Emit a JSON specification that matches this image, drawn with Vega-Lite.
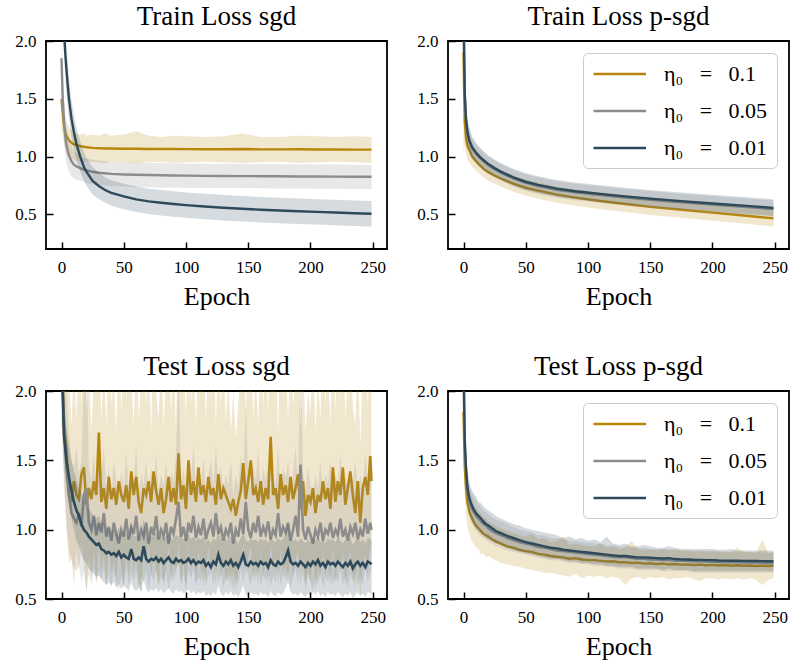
{
"$schema": "https://vega.github.io/schema/vega-lite/v6.json",
"background": "white",
"padding": {"left": 13, "top": 2, "right": 2, "bottom": 2},
"config": {
  "font": "Liberation Serif",
  "view": {"stroke": "black", "strokeWidth": 1.8},
  "axis": {"domain": false, "grid": false, "tickColor": "black", "tickWidth": 1.5, "tickSize": -7, "labelPadding": 17, "labelColor": "black", "labelFont": "Liberation Serif", "labelFontSize": 17, "titleFont": "Liberation Serif", "titleFontSize": 26, "titleFontWeight": "normal", "titleColor": "black", "titlePadding": 8},
  "title": {"font": "Liberation Serif", "fontSize": 27, "fontWeight": "normal", "color": "black", "offset": 1}
},
"columns": 2,
"spacing": {"row": 42, "column": 27},
"resolve": {"scale": {"color": "independent"}, "legend": {"color": "independent"}},
"datasets": {
"trs": [
{"e":0,"a":1.5,"al":1.22,"ah":1.8,"b":1.85,"bl":1.6,"bh":2.1,"c":2.6,"cl":2.3,"ch":2.9},
{"e":1,"a":1.38,"al":1.2,"ah":1.6,"b":1.5,"bl":1.3,"bh":1.75,"c":2.35,"cl":2.1,"ch":2.6},
{"e":2,"a":1.27,"al":1.12,"ah":1.45,"b":1.3,"bl":1.12,"bh":1.5,"c":2.1,"cl":1.88,"ch":2.32},
{"e":3,"a":1.21,"al":1.06,"ah":1.36,"b":1.18,"bl":1.02,"bh":1.36,"c":1.9,"cl":1.7,"ch":2.1},
{"e":4,"a":1.18,"al":1.03,"ah":1.3,"b":1.1,"bl":0.95,"bh":1.27,"c":1.75,"cl":1.56,"ch":1.94},
{"e":5,"a":1.16,"al":1.0,"ah":1.27,"b":1.05,"bl":0.9,"bh":1.2,"c":1.62,"cl":1.44,"ch":1.8},
{"e":6,"a":1.14,"al":0.99,"ah":1.25,"b":1.01,"bl":0.87,"bh":1.15,"c":1.5,"cl":1.33,"ch":1.67},
{"e":8,"a":1.12,"al":0.98,"ah":1.23,"b":0.96,"bl":0.83,"bh":1.09,"c":1.33,"cl":1.17,"ch":1.49},
{"e":10,"a":1.105,"al":0.97,"ah":1.22,"b":0.93,"bl":0.81,"bh":1.05,"c":1.21,"cl":1.06,"ch":1.36},
{"e":12,"a":1.1,"al":0.96,"ah":1.2,"b":0.915,"bl":0.8,"bh":1.03,"c":1.11,"cl":0.97,"ch":1.25},
{"e":15,"a":1.09,"al":0.96,"ah":1.19,"b":0.9,"bl":0.79,"bh":1.01,"c":1.0,"cl":0.87,"ch":1.13},
{"e":18,"a":1.085,"al":0.95,"ah":1.2,"b":0.885,"bl":0.78,"bh":0.99,"c":0.91,"cl":0.79,"ch":1.04},
{"e":20,"a":1.08,"al":0.96,"ah":1.18,"b":0.88,"bl":0.77,"bh":0.985,"c":0.87,"cl":0.75,"ch":0.99},
{"e":25,"a":1.075,"al":0.95,"ah":1.19,"b":0.868,"bl":0.76,"bh":0.975,"c":0.79,"cl":0.67,"ch":0.91},
{"e":30,"a":1.072,"al":0.95,"ah":1.18,"b":0.86,"bl":0.755,"bh":0.965,"c":0.745,"cl":0.63,"ch":0.86},
{"e":35,"a":1.07,"al":0.94,"ah":1.2,"b":0.855,"bl":0.75,"bh":0.96,"c":0.71,"cl":0.6,"ch":0.82},
{"e":40,"a":1.07,"al":0.96,"ah":1.18,"b":0.85,"bl":0.745,"bh":0.955,"c":0.685,"cl":0.575,"ch":0.795},
{"e":50,"a":1.068,"al":0.95,"ah":1.19,"b":0.845,"bl":0.74,"bh":0.95,"c":0.655,"cl":0.545,"ch":0.765},
{"e":60,"a":1.067,"al":0.94,"ah":1.22,"b":0.842,"bl":0.737,"bh":0.947,"c":0.63,"cl":0.52,"ch":0.74},
{"e":70,"a":1.066,"al":0.95,"ah":1.18,"b":0.84,"bl":0.735,"bh":0.945,"c":0.612,"cl":0.502,"ch":0.722},
{"e":80,"a":1.065,"al":0.955,"ah":1.17,"b":0.838,"bl":0.733,"bh":0.943,"c":0.6,"cl":0.49,"ch":0.71},
{"e":90,"a":1.065,"al":0.945,"ah":1.18,"b":0.836,"bl":0.731,"bh":0.941,"c":0.59,"cl":0.48,"ch":0.7},
{"e":100,"a":1.064,"al":0.95,"ah":1.175,"b":0.835,"bl":0.73,"bh":0.94,"c":0.58,"cl":0.47,"ch":0.69},
{"e":115,"a":1.063,"al":0.955,"ah":1.17,"b":0.833,"bl":0.728,"bh":0.938,"c":0.568,"cl":0.458,"ch":0.678},
{"e":130,"a":1.063,"al":0.95,"ah":1.175,"b":0.832,"bl":0.727,"bh":0.937,"c":0.557,"cl":0.447,"ch":0.667},
{"e":145,"a":1.065,"al":0.945,"ah":1.2,"b":0.831,"bl":0.726,"bh":0.936,"c":0.548,"cl":0.438,"ch":0.658},
{"e":160,"a":1.062,"al":0.95,"ah":1.17,"b":0.83,"bl":0.725,"bh":0.935,"c":0.54,"cl":0.43,"ch":0.65},
{"e":175,"a":1.062,"al":0.955,"ah":1.17,"b":0.829,"bl":0.724,"bh":0.934,"c":0.533,"cl":0.423,"ch":0.643},
{"e":190,"a":1.063,"al":0.945,"ah":1.18,"b":0.828,"bl":0.723,"bh":0.933,"c":0.527,"cl":0.417,"ch":0.637},
{"e":205,"a":1.061,"al":0.95,"ah":1.175,"b":0.827,"bl":0.722,"bh":0.932,"c":0.521,"cl":0.411,"ch":0.631},
{"e":220,"a":1.061,"al":0.955,"ah":1.17,"b":0.826,"bl":0.721,"bh":0.931,"c":0.516,"cl":0.406,"ch":0.626},
{"e":235,"a":1.06,"al":0.95,"ah":1.175,"b":0.825,"bl":0.72,"bh":0.93,"c":0.51,"cl":0.4,"ch":0.62},
{"e":249,"a":1.06,"al":0.945,"ah":1.17,"b":0.825,"bl":0.72,"bh":0.93,"c":0.505,"cl":0.395,"ch":0.615}
],
"trp": [
{"e":0,"a":1.9,"al":1.02,"ah":2.3,"b":2.2,"bl":1.8,"bh":2.5,"c":2.3,"cl":1.9,"ch":2.6},
{"e":1,"a":1.3,"al":1.1,"ah":1.5,"b":1.52,"bl":1.35,"bh":1.7,"c":1.55,"cl":1.38,"ch":1.72},
{"e":2,"a":1.16,"al":1.02,"ah":1.3,"b":1.31,"bl":1.18,"bh":1.44,"c":1.32,"cl":1.19,"ch":1.45},
{"e":3,"a":1.1,"al":0.98,"ah":1.22,"b":1.215,"bl":1.1,"bh":1.33,"c":1.23,"cl":1.11,"ch":1.35},
{"e":4,"a":1.07,"al":0.96,"ah":1.18,"b":1.16,"bl":1.05,"bh":1.27,"c":1.17,"cl":1.06,"ch":1.28},
{"e":5,"a":1.05,"al":0.95,"ah":1.15,"b":1.12,"bl":1.02,"bh":1.22,"c":1.13,"cl":1.03,"ch":1.24},
{"e":7,"a":1.0,"al":0.91,"ah":1.09,"b":1.07,"bl":0.98,"bh":1.16,"c":1.08,"cl":0.99,"ch":1.17},
{"e":10,"a":0.96,"al":0.88,"ah":1.04,"b":1.025,"bl":0.94,"bh":1.11,"c":1.035,"cl":0.95,"ch":1.12},
{"e":13,"a":0.925,"al":0.85,"ah":1.0,"b":0.99,"bl":0.91,"bh":1.07,"c":1.0,"cl":0.92,"ch":1.08},
{"e":16,"a":0.895,"al":0.82,"ah":0.97,"b":0.96,"bl":0.88,"bh":1.04,"c":0.97,"cl":0.89,"ch":1.05},
{"e":20,"a":0.865,"al":0.79,"ah":0.94,"b":0.925,"bl":0.85,"bh":1.0,"c":0.935,"cl":0.86,"ch":1.01},
{"e":25,"a":0.835,"al":0.765,"ah":0.905,"b":0.89,"bl":0.82,"bh":0.965,"c":0.9,"cl":0.83,"ch":0.975},
{"e":30,"a":0.81,"al":0.74,"ah":0.88,"b":0.86,"bl":0.79,"bh":0.935,"c":0.87,"cl":0.8,"ch":0.945},
{"e":40,"a":0.765,"al":0.695,"ah":0.835,"b":0.81,"bl":0.74,"bh":0.885,"c":0.82,"cl":0.75,"ch":0.895},
{"e":50,"a":0.73,"al":0.66,"ah":0.8,"b":0.772,"bl":0.702,"bh":0.847,"c":0.782,"cl":0.712,"ch":0.857},
{"e":60,"a":0.705,"al":0.635,"ah":0.775,"b":0.745,"bl":0.675,"bh":0.82,"c":0.755,"cl":0.685,"ch":0.83},
{"e":75,"a":0.67,"al":0.6,"ah":0.74,"b":0.712,"bl":0.642,"bh":0.787,"c":0.722,"cl":0.652,"ch":0.797},
{"e":90,"a":0.645,"al":0.575,"ah":0.715,"b":0.69,"bl":0.62,"bh":0.765,"c":0.7,"cl":0.63,"ch":0.775},
{"e":110,"a":0.615,"al":0.545,"ah":0.685,"b":0.667,"bl":0.597,"bh":0.742,"c":0.677,"cl":0.607,"ch":0.752},
{"e":130,"a":0.59,"al":0.52,"ah":0.66,"b":0.645,"bl":0.575,"bh":0.72,"c":0.655,"cl":0.585,"ch":0.73},
{"e":150,"a":0.565,"al":0.495,"ah":0.635,"b":0.626,"bl":0.556,"bh":0.701,"c":0.636,"cl":0.566,"ch":0.711},
{"e":175,"a":0.54,"al":0.47,"ah":0.61,"b":0.604,"bl":0.534,"bh":0.679,"c":0.614,"cl":0.544,"ch":0.689},
{"e":200,"a":0.515,"al":0.445,"ah":0.585,"b":0.584,"bl":0.514,"bh":0.659,"c":0.594,"cl":0.524,"ch":0.669},
{"e":225,"a":0.49,"al":0.42,"ah":0.56,"b":0.565,"bl":0.495,"bh":0.64,"c":0.575,"cl":0.505,"ch":0.65},
{"e":249,"a":0.465,"al":0.395,"ah":0.535,"b":0.546,"bl":0.476,"bh":0.621,"c":0.556,"cl":0.486,"ch":0.631}
],
"tes": [
{"e":0,"a":2.3,"al":1.8,"ah":2.8,"b":2.3,"bl":1.8,"bh":2.8,"c":2.3,"cl":2.0,"ch":2.6},
{"e":2,"a":1.75,"al":1.3,"ah":2.3,"b":1.76,"bl":1.4,"bh":2.2,"c":1.68,"cl":1.45,"ch":1.95},
{"e":4,"a":1.58,"al":1.05,"ah":2.2,"b":1.45,"bl":1.0,"bh":1.95,"c":1.5,"cl":1.3,"ch":1.72},
{"e":6,"a":1.25,"al":0.75,"ah":2.1,"b":1.25,"bl":0.85,"bh":1.7,"c":1.38,"cl":1.18,"ch":1.6},
{"e":8,"a":1.2,"al":0.8,"ah":1.75,"b":1.12,"bl":0.78,"bh":1.5,"c":1.28,"cl":1.08,"ch":1.5},
{"e":10,"a":1.35,"al":0.6,"ah":2.2,"b":1.08,"bl":0.72,"bh":1.45,"c":1.2,"cl":1.0,"ch":1.42},
{"e":12,"a":1.25,"al":0.85,"ah":1.8,"b":1.05,"bl":0.7,"bh":1.6,"c":1.14,"cl":0.92,"ch":1.36},
{"e":14,"a":1.22,"al":0.7,"ah":2.3,"b":1.12,"bl":0.75,"bh":1.4,"c":1.1,"cl":0.88,"ch":1.3},
{"e":16,"a":1.4,"al":0.9,"ah":1.9,"b":1.02,"bl":0.62,"bh":1.5,"c":1.04,"cl":0.82,"ch":1.26},
{"e":18,"a":1.45,"al":0.75,"ah":2.4,"b":1.25,"bl":0.7,"bh":2.1,"c":1.0,"cl":0.78,"ch":1.22},
{"e":20,"a":1.18,"al":0.55,"ah":1.85,"b":1.3,"bl":0.55,"bh":2.3,"c":0.98,"cl":0.76,"ch":1.18},
{"e":22,"a":1.3,"al":0.8,"ah":2.2,"b":1.05,"bl":0.68,"bh":1.45,"c":0.95,"cl":0.72,"ch":1.15},
{"e":24,"a":1.22,"al":0.65,"ah":1.7,"b":1.0,"bl":0.6,"bh":1.35,"c":0.93,"cl":0.7,"ch":1.12},
{"e":26,"a":1.35,"al":0.85,"ah":2.1,"b":1.1,"bl":0.72,"bh":1.55,"c":0.91,"cl":0.68,"ch":1.1},
{"e":28,"a":1.25,"al":0.6,"ah":2.5,"b":0.96,"bl":0.62,"bh":1.3,"c":0.89,"cl":0.66,"ch":1.08},
{"e":30,"a":1.7,"al":0.9,"ah":2.4,"b":1.05,"bl":0.7,"bh":1.5,"c":0.9,"cl":0.67,"ch":1.1},
{"e":32,"a":1.2,"al":0.7,"ah":1.8,"b":0.98,"bl":0.64,"bh":1.38,"c":0.86,"cl":0.64,"ch":1.05},
{"e":34,"a":1.3,"al":0.82,"ah":2.2,"b":1.12,"bl":0.72,"bh":1.6,"c":0.85,"cl":0.62,"ch":1.04},
{"e":36,"a":1.15,"al":0.6,"ah":1.75,"b":0.95,"bl":0.6,"bh":1.3,"c":0.83,"cl":0.6,"ch":1.0},
{"e":38,"a":1.38,"al":0.88,"ah":2.3,"b":1.02,"bl":0.68,"bh":1.45,"c":0.84,"cl":0.62,"ch":1.02},
{"e":40,"a":1.22,"al":0.68,"ah":1.9,"b":0.92,"bl":0.58,"bh":1.25,"c":0.82,"cl":0.6,"ch":0.98},
{"e":42,"a":1.3,"al":0.78,"ah":2.1,"b":1.05,"bl":0.7,"bh":1.5,"c":0.83,"cl":0.62,"ch":1.0},
{"e":44,"a":1.18,"al":0.62,"ah":1.7,"b":0.97,"bl":0.62,"bh":1.35,"c":0.81,"cl":0.58,"ch":0.97},
{"e":46,"a":1.35,"al":0.9,"ah":2.4,"b":0.9,"bl":0.56,"bh":1.25,"c":0.84,"cl":0.61,"ch":1.02},
{"e":48,"a":1.25,"al":0.72,"ah":1.85,"b":1.0,"bl":0.66,"bh":1.42,"c":0.8,"cl":0.57,"ch":0.96},
{"e":50,"a":1.2,"al":0.58,"ah":2.2,"b":0.95,"bl":0.6,"bh":1.3,"c":0.82,"cl":0.6,"ch":0.99},
{"e":52,"a":1.32,"al":0.85,"ah":1.95,"b":1.08,"bl":0.72,"bh":1.55,"c":0.8,"cl":0.58,"ch":0.97},
{"e":54,"a":1.15,"al":0.65,"ah":2.3,"b":0.93,"bl":0.6,"bh":1.28,"c":0.79,"cl":0.56,"ch":0.95},
{"e":56,"a":1.42,"al":0.88,"ah":2.1,"b":1.02,"bl":0.68,"bh":1.4,"c":0.86,"cl":0.62,"ch":1.05},
{"e":58,"a":1.25,"al":0.7,"ah":1.75,"b":0.97,"bl":0.63,"bh":1.35,"c":0.79,"cl":0.57,"ch":0.96},
{"e":60,"a":1.38,"al":0.8,"ah":2.4,"b":1.1,"bl":0.7,"bh":1.6,"c":0.78,"cl":0.56,"ch":0.95},
{"e":62,"a":1.2,"al":0.62,"ah":1.8,"b":0.92,"bl":0.58,"bh":1.25,"c":0.8,"cl":0.58,"ch":0.97},
{"e":64,"a":1.12,"al":0.55,"ah":2.05,"b":1.0,"bl":0.66,"bh":1.4,"c":0.78,"cl":0.55,"ch":0.94},
{"e":66,"a":1.3,"al":0.85,"ah":2.3,"b":0.95,"bl":0.62,"bh":1.32,"c":0.88,"cl":0.64,"ch":1.08},
{"e":68,"a":1.25,"al":0.72,"ah":1.9,"b":1.05,"bl":0.7,"bh":1.5,"c":0.79,"cl":0.57,"ch":0.96},
{"e":70,"a":1.35,"al":0.9,"ah":2.2,"b":0.9,"bl":0.57,"bh":1.26,"c":0.77,"cl":0.55,"ch":0.94},
{"e":72,"a":1.2,"al":0.66,"ah":1.7,"b":1.02,"bl":0.68,"bh":1.45,"c":0.79,"cl":0.57,"ch":0.96},
{"e":74,"a":1.42,"al":0.82,"ah":2.5,"b":0.96,"bl":0.62,"bh":1.3,"c":0.78,"cl":0.56,"ch":0.95},
{"e":76,"a":1.28,"al":0.7,"ah":2.0,"b":1.1,"bl":0.72,"bh":1.55,"c":0.8,"cl":0.58,"ch":0.98},
{"e":78,"a":1.18,"al":0.6,"ah":1.8,"b":0.93,"bl":0.6,"bh":1.28,"c":0.77,"cl":0.55,"ch":0.94},
{"e":80,"a":1.3,"al":0.85,"ah":2.3,"b":1.0,"bl":0.66,"bh":1.4,"c":0.79,"cl":0.57,"ch":0.96},
{"e":82,"a":1.12,"al":0.58,"ah":1.75,"b":0.95,"bl":0.62,"bh":1.32,"c":0.76,"cl":0.54,"ch":0.93},
{"e":84,"a":1.22,"al":0.75,"ah":2.1,"b":1.05,"bl":0.7,"bh":1.48,"c":0.78,"cl":0.56,"ch":0.95},
{"e":86,"a":1.38,"al":0.88,"ah":2.4,"b":0.9,"bl":0.56,"bh":1.25,"c":0.8,"cl":0.58,"ch":0.97},
{"e":88,"a":1.2,"al":0.62,"ah":1.85,"b":1.02,"bl":0.68,"bh":1.42,"c":0.77,"cl":0.55,"ch":0.94},
{"e":90,"a":1.3,"al":0.8,"ah":2.2,"b":0.97,"bl":0.63,"bh":1.35,"c":0.76,"cl":0.54,"ch":0.93},
{"e":92,"a":1.18,"al":0.66,"ah":1.7,"b":1.08,"bl":0.72,"bh":1.55,"c":0.79,"cl":0.57,"ch":0.96},
{"e":94,"a":1.55,"al":0.9,"ah":2.6,"b":1.2,"bl":0.75,"bh":2.2,"c":0.77,"cl":0.55,"ch":0.95},
{"e":96,"a":1.22,"al":0.6,"ah":2.0,"b":0.95,"bl":0.6,"bh":1.3,"c":0.78,"cl":0.56,"ch":0.96},
{"e":98,"a":1.32,"al":0.78,"ah":2.3,"b":1.02,"bl":0.68,"bh":1.45,"c":0.76,"cl":0.54,"ch":0.93},
{"e":100,"a":1.15,"al":0.55,"ah":1.8,"b":0.92,"bl":0.58,"bh":1.3,"c":0.77,"cl":0.55,"ch":0.94},
{"e":102,"a":1.5,"al":0.88,"ah":2.5,"b":1.05,"bl":0.7,"bh":1.5,"c":0.79,"cl":0.57,"ch":0.97},
{"e":104,"a":1.25,"al":0.7,"ah":1.9,"b":0.98,"bl":0.64,"bh":1.38,"c":0.76,"cl":0.54,"ch":0.93},
{"e":106,"a":1.35,"al":0.82,"ah":2.2,"b":1.1,"bl":0.72,"bh":1.6,"c":0.78,"cl":0.56,"ch":0.95},
{"e":108,"a":1.2,"al":0.62,"ah":1.75,"b":0.94,"bl":0.6,"bh":1.3,"c":0.75,"cl":0.53,"ch":0.92},
{"e":110,"a":1.45,"al":0.85,"ah":2.4,"b":1.02,"bl":0.66,"bh":1.45,"c":0.77,"cl":0.55,"ch":0.94},
{"e":112,"a":1.25,"al":0.72,"ah":2.05,"b":0.96,"bl":0.62,"bh":1.32,"c":0.76,"cl":0.54,"ch":0.93},
{"e":114,"a":1.32,"al":0.6,"ah":2.3,"b":1.08,"bl":0.72,"bh":1.52,"c":0.78,"cl":0.56,"ch":0.95},
{"e":116,"a":1.2,"al":0.68,"ah":1.8,"b":0.93,"bl":0.6,"bh":1.28,"c":0.74,"cl":0.52,"ch":0.91},
{"e":118,"a":1.38,"al":0.88,"ah":2.2,"b":1.0,"bl":0.66,"bh":1.4,"c":0.76,"cl":0.54,"ch":0.93},
{"e":120,"a":1.25,"al":0.7,"ah":1.95,"b":1.05,"bl":0.7,"bh":1.5,"c":0.73,"cl":0.52,"ch":0.9},
{"e":122,"a":1.3,"al":0.8,"ah":2.4,"b":0.95,"bl":0.6,"bh":1.32,"c":0.77,"cl":0.55,"ch":0.94},
{"e":124,"a":1.18,"al":0.58,"ah":1.75,"b":1.12,"bl":0.74,"bh":1.6,"c":0.75,"cl":0.53,"ch":0.92},
{"e":126,"a":1.4,"al":0.85,"ah":2.3,"b":0.97,"bl":0.62,"bh":1.35,"c":0.82,"cl":0.6,"ch":1.0},
{"e":128,"a":1.22,"al":0.66,"ah":1.9,"b":1.02,"bl":0.68,"bh":1.45,"c":0.76,"cl":0.54,"ch":0.93},
{"e":130,"a":1.3,"al":0.78,"ah":2.2,"b":0.92,"bl":0.58,"bh":1.26,"c":0.74,"cl":0.52,"ch":0.91},
{"e":132,"a":1.25,"al":0.62,"ah":1.8,"b":1.0,"bl":0.66,"bh":1.4,"c":0.77,"cl":0.55,"ch":0.94},
{"e":134,"a":1.2,"al":0.7,"ah":2.1,"b":0.96,"bl":0.62,"bh":1.32,"c":0.75,"cl":0.53,"ch":0.92},
{"e":136,"a":1.15,"al":0.6,"ah":1.7,"b":1.05,"bl":0.7,"bh":1.5,"c":0.78,"cl":0.56,"ch":0.95},
{"e":138,"a":1.22,"al":0.72,"ah":2.0,"b":0.9,"bl":0.56,"bh":1.25,"c":0.74,"cl":0.52,"ch":0.91},
{"e":140,"a":1.1,"al":0.55,"ah":1.65,"b":1.0,"bl":0.66,"bh":1.4,"c":0.76,"cl":0.54,"ch":0.93},
{"e":142,"a":1.2,"al":0.7,"ah":1.9,"b":0.95,"bl":0.6,"bh":1.3,"c":0.73,"cl":0.51,"ch":0.9},
{"e":144,"a":1.28,"al":0.78,"ah":2.3,"b":1.08,"bl":0.72,"bh":1.55,"c":0.77,"cl":0.55,"ch":0.94},
{"e":146,"a":1.48,"al":0.9,"ah":2.5,"b":0.97,"bl":0.62,"bh":1.35,"c":0.82,"cl":0.6,"ch":1.0},
{"e":148,"a":1.22,"al":0.66,"ah":1.85,"b":1.2,"bl":0.75,"bh":1.9,"c":0.75,"cl":0.53,"ch":0.92},
{"e":150,"a":1.35,"al":0.8,"ah":2.2,"b":1.0,"bl":0.66,"bh":1.4,"c":0.74,"cl":0.52,"ch":0.91},
{"e":152,"a":1.5,"al":0.88,"ah":2.4,"b":0.94,"bl":0.6,"bh":1.3,"c":0.77,"cl":0.55,"ch":0.94},
{"e":154,"a":1.25,"al":0.62,"ah":1.8,"b":1.05,"bl":0.7,"bh":1.48,"c":0.75,"cl":0.53,"ch":0.92},
{"e":156,"a":1.3,"al":0.75,"ah":2.1,"b":0.98,"bl":0.64,"bh":1.36,"c":0.76,"cl":0.54,"ch":0.93},
{"e":158,"a":1.2,"al":0.6,"ah":1.75,"b":1.1,"bl":0.72,"bh":1.58,"c":0.74,"cl":0.52,"ch":0.91},
{"e":160,"a":1.35,"al":0.85,"ah":2.3,"b":0.95,"bl":0.6,"bh":1.3,"c":0.77,"cl":0.55,"ch":0.94},
{"e":162,"a":1.18,"al":0.66,"ah":1.9,"b":1.02,"bl":0.68,"bh":1.45,"c":0.75,"cl":0.53,"ch":0.92},
{"e":164,"a":1.3,"al":0.78,"ah":2.2,"b":0.97,"bl":0.62,"bh":1.35,"c":0.76,"cl":0.54,"ch":0.93},
{"e":166,"a":1.22,"al":0.58,"ah":1.85,"b":1.06,"bl":0.7,"bh":1.5,"c":0.73,"cl":0.51,"ch":0.9},
{"e":168,"a":1.67,"al":0.9,"ah":2.6,"b":0.93,"bl":0.6,"bh":1.28,"c":0.78,"cl":0.56,"ch":0.95},
{"e":170,"a":1.25,"al":0.7,"ah":2.0,"b":1.0,"bl":0.66,"bh":1.4,"c":0.75,"cl":0.53,"ch":0.92},
{"e":172,"a":1.3,"al":0.8,"ah":2.3,"b":0.96,"bl":0.62,"bh":1.32,"c":0.74,"cl":0.52,"ch":0.91},
{"e":174,"a":1.15,"al":0.6,"ah":1.7,"b":1.12,"bl":0.74,"bh":1.6,"c":0.77,"cl":0.55,"ch":0.94},
{"e":176,"a":1.4,"al":0.85,"ah":2.4,"b":0.95,"bl":0.6,"bh":1.3,"c":0.75,"cl":0.53,"ch":0.92},
{"e":178,"a":1.25,"al":0.68,"ah":1.95,"b":1.02,"bl":0.68,"bh":1.45,"c":0.76,"cl":0.54,"ch":0.93},
{"e":180,"a":1.32,"al":0.75,"ah":2.2,"b":0.98,"bl":0.64,"bh":1.38,"c":0.8,"cl":0.58,"ch":0.98},
{"e":182,"a":1.2,"al":0.62,"ah":1.8,"b":1.05,"bl":0.7,"bh":1.5,"c":0.85,"cl":0.62,"ch":1.05},
{"e":184,"a":1.38,"al":0.82,"ah":2.3,"b":0.92,"bl":0.58,"bh":1.26,"c":0.77,"cl":0.55,"ch":0.94},
{"e":186,"a":1.22,"al":0.66,"ah":1.9,"b":1.0,"bl":0.66,"bh":1.4,"c":0.75,"cl":0.53,"ch":0.92},
{"e":188,"a":1.3,"al":0.78,"ah":2.1,"b":1.1,"bl":0.72,"bh":1.6,"c":0.76,"cl":0.54,"ch":0.93},
{"e":190,"a":1.4,"al":0.85,"ah":2.4,"b":0.95,"bl":0.6,"bh":1.3,"c":0.74,"cl":0.52,"ch":0.91},
{"e":192,"a":1.15,"al":0.58,"ah":1.75,"b":1.47,"bl":0.8,"bh":2.4,"c":0.77,"cl":0.55,"ch":0.94},
{"e":194,"a":1.35,"al":0.8,"ah":2.2,"b":1.0,"bl":0.66,"bh":1.42,"c":0.75,"cl":0.53,"ch":0.92},
{"e":196,"a":1.1,"al":0.55,"ah":1.7,"b":0.93,"bl":0.6,"bh":1.28,"c":0.73,"cl":0.51,"ch":0.9},
{"e":198,"a":1.25,"al":0.72,"ah":2.0,"b":1.02,"bl":0.68,"bh":1.45,"c":0.76,"cl":0.54,"ch":0.93},
{"e":200,"a":1.2,"al":0.62,"ah":1.85,"b":0.96,"bl":0.62,"bh":1.32,"c":0.74,"cl":0.52,"ch":0.91},
{"e":202,"a":1.3,"al":0.8,"ah":2.3,"b":0.9,"bl":0.56,"bh":1.25,"c":0.77,"cl":0.55,"ch":0.94},
{"e":204,"a":1.12,"al":0.56,"ah":1.7,"b":1.0,"bl":0.66,"bh":1.4,"c":0.75,"cl":0.53,"ch":0.92},
{"e":206,"a":1.25,"al":0.72,"ah":2.1,"b":0.95,"bl":0.6,"bh":1.3,"c":0.78,"cl":0.56,"ch":0.95},
{"e":208,"a":1.2,"al":0.65,"ah":1.8,"b":1.05,"bl":0.7,"bh":1.5,"c":0.74,"cl":0.52,"ch":0.91},
{"e":210,"a":1.35,"al":0.85,"ah":2.4,"b":0.92,"bl":0.58,"bh":1.26,"c":0.76,"cl":0.54,"ch":0.93},
{"e":212,"a":1.22,"al":0.66,"ah":1.9,"b":1.0,"bl":0.66,"bh":1.4,"c":0.73,"cl":0.51,"ch":0.9},
{"e":214,"a":1.3,"al":0.78,"ah":2.2,"b":0.97,"bl":0.62,"bh":1.34,"c":0.77,"cl":0.55,"ch":0.94},
{"e":216,"a":1.15,"al":0.58,"ah":1.75,"b":1.05,"bl":0.7,"bh":1.5,"c":0.75,"cl":0.53,"ch":0.92},
{"e":218,"a":1.45,"al":0.88,"ah":2.5,"b":0.94,"bl":0.6,"bh":1.3,"c":0.76,"cl":0.54,"ch":0.93},
{"e":220,"a":1.2,"al":0.62,"ah":1.85,"b":1.0,"bl":0.66,"bh":1.4,"c":0.74,"cl":0.52,"ch":0.91},
{"e":222,"a":1.35,"al":0.8,"ah":2.3,"b":0.96,"bl":0.62,"bh":1.32,"c":0.77,"cl":0.55,"ch":0.94},
{"e":224,"a":1.25,"al":0.7,"ah":1.95,"b":1.08,"bl":0.72,"bh":1.55,"c":0.75,"cl":0.53,"ch":0.92},
{"e":226,"a":1.45,"al":0.85,"ah":2.4,"b":0.95,"bl":0.6,"bh":1.3,"c":0.73,"cl":0.51,"ch":0.9},
{"e":228,"a":1.18,"al":0.6,"ah":1.8,"b":1.0,"bl":0.66,"bh":1.4,"c":0.76,"cl":0.54,"ch":0.93},
{"e":230,"a":1.3,"al":0.75,"ah":2.1,"b":0.92,"bl":0.58,"bh":1.26,"c":0.74,"cl":0.52,"ch":0.91},
{"e":232,"a":1.42,"al":0.85,"ah":2.4,"b":1.02,"bl":0.68,"bh":1.45,"c":0.77,"cl":0.55,"ch":0.94},
{"e":234,"a":1.25,"al":0.66,"ah":1.9,"b":0.97,"bl":0.62,"bh":1.34,"c":0.72,"cl":0.5,"ch":0.89},
{"e":236,"a":1.12,"al":0.58,"ah":1.75,"b":1.05,"bl":0.7,"bh":1.5,"c":0.75,"cl":0.53,"ch":0.92},
{"e":238,"a":1.35,"al":0.82,"ah":2.3,"b":0.93,"bl":0.6,"bh":1.28,"c":0.77,"cl":0.55,"ch":0.94},
{"e":240,"a":1.05,"al":0.52,"ah":1.6,"b":1.0,"bl":0.66,"bh":1.4,"c":0.74,"cl":0.52,"ch":0.91},
{"e":242,"a":1.3,"al":0.75,"ah":2.2,"b":0.95,"bl":0.6,"bh":1.3,"c":0.76,"cl":0.54,"ch":0.93},
{"e":244,"a":1.38,"al":0.82,"ah":2.4,"b":1.08,"bl":0.72,"bh":1.55,"c":0.73,"cl":0.51,"ch":0.9},
{"e":246,"a":1.25,"al":0.68,"ah":1.9,"b":0.97,"bl":0.62,"bh":1.34,"c":0.77,"cl":0.55,"ch":0.94},
{"e":248,"a":1.53,"al":0.9,"ah":2.5,"b":1.05,"bl":0.7,"bh":1.5,"c":0.76,"cl":0.54,"ch":0.93},
{"e":249,"a":1.35,"al":0.8,"ah":2.2,"b":1.0,"bl":0.66,"bh":1.42,"c":0.75,"cl":0.53,"ch":0.92}
],
"tep": [
{"e":0,"a":1.85,"al":1.6,"ah":2.1,"b":2.1,"bl":1.8,"bh":2.4,"c":2.3,"cl":2.0,"ch":2.6},
{"e":1,"a":1.45,"al":1.25,"ah":1.65,"b":1.6,"bl":1.42,"bh":1.78,"c":1.65,"cl":1.48,"ch":1.82},
{"e":2,"a":1.3,"al":1.12,"ah":1.48,"b":1.42,"bl":1.28,"bh":1.56,"c":1.45,"cl":1.32,"ch":1.58},
{"e":3,"a":1.2,"al":1.03,"ah":1.36,"b":1.3,"bl":1.18,"bh":1.42,"c":1.32,"cl":1.2,"ch":1.44},
{"e":4,"a":1.16,"al":0.99,"ah":1.3,"b":1.24,"bl":1.12,"bh":1.36,"c":1.26,"cl":1.14,"ch":1.38},
{"e":5,"a":1.12,"al":0.96,"ah":1.26,"b":1.2,"bl":1.08,"bh":1.31,"c":1.22,"cl":1.1,"ch":1.33},
{"e":6,"a":1.1,"al":0.93,"ah":1.24,"b":1.17,"bl":1.06,"bh":1.28,"c":1.19,"cl":1.08,"ch":1.3},
{"e":8,"a":1.06,"al":0.9,"ah":1.2,"b":1.13,"bl":1.02,"bh":1.25,"c":1.15,"cl":1.04,"ch":1.26},
{"e":10,"a":1.03,"al":0.87,"ah":1.16,"b":1.1,"bl":0.99,"bh":1.22,"c":1.12,"cl":1.01,"ch":1.24},
{"e":12,"a":1.01,"al":0.86,"ah":1.13,"b":1.08,"bl":0.97,"bh":1.19,"c":1.1,"cl":0.99,"ch":1.2},
{"e":14,"a":0.99,"al":0.82,"ah":1.12,"b":1.06,"bl":0.95,"bh":1.16,"c":1.08,"cl":0.97,"ch":1.19},
{"e":16,"a":0.97,"al":0.83,"ah":1.09,"b":1.04,"bl":0.94,"bh":1.14,"c":1.06,"cl":0.96,"ch":1.17},
{"e":18,"a":0.96,"al":0.8,"ah":1.08,"b":1.03,"bl":0.93,"bh":1.13,"c":1.04,"cl":0.94,"ch":1.15},
{"e":20,"a":0.95,"al":0.81,"ah":1.06,"b":1.01,"bl":0.91,"bh":1.11,"c":1.03,"cl":0.93,"ch":1.14},
{"e":23,"a":0.93,"al":0.79,"ah":1.04,"b":0.99,"bl":0.9,"bh":1.09,"c":1.01,"cl":0.92,"ch":1.12},
{"e":26,"a":0.915,"al":0.78,"ah":1.03,"b":0.975,"bl":0.88,"bh":1.07,"c":0.99,"cl":0.9,"ch":1.1},
{"e":30,"a":0.9,"al":0.76,"ah":1.01,"b":0.96,"bl":0.87,"bh":1.06,"c":0.975,"cl":0.89,"ch":1.08},
{"e":35,"a":0.88,"al":0.75,"ah":0.99,"b":0.94,"bl":0.85,"bh":1.04,"c":0.955,"cl":0.87,"ch":1.06},
{"e":40,"a":0.87,"al":0.74,"ah":0.98,"b":0.925,"bl":0.84,"bh":1.02,"c":0.94,"cl":0.85,"ch":1.04},
{"e":45,"a":0.855,"al":0.73,"ah":0.96,"b":0.91,"bl":0.83,"bh":1.0,"c":0.925,"cl":0.84,"ch":1.03},
{"e":50,"a":0.845,"al":0.72,"ah":0.95,"b":0.9,"bl":0.82,"bh":0.99,"c":0.91,"cl":0.83,"ch":1.01},
{"e":55,"a":0.84,"al":0.71,"ah":0.97,"b":0.89,"bl":0.81,"bh":0.98,"c":0.9,"cl":0.82,"ch":1.0},
{"e":60,"a":0.825,"al":0.7,"ah":0.93,"b":0.875,"bl":0.8,"bh":0.96,"c":0.89,"cl":0.81,"ch":0.99},
{"e":65,"a":0.82,"al":0.69,"ah":0.94,"b":0.87,"bl":0.79,"bh":0.96,"c":0.88,"cl":0.8,"ch":0.98},
{"e":70,"a":0.81,"al":0.69,"ah":0.91,"b":0.86,"bl":0.78,"bh":0.94,"c":0.87,"cl":0.79,"ch":0.97},
{"e":75,"a":0.805,"al":0.68,"ah":0.92,"b":0.85,"bl":0.78,"bh":0.94,"c":0.865,"cl":0.79,"ch":0.96},
{"e":80,"a":0.8,"al":0.67,"ah":0.95,"b":0.845,"bl":0.77,"bh":0.93,"c":0.855,"cl":0.78,"ch":0.94},
{"e":85,"a":0.79,"al":0.66,"ah":0.89,"b":0.84,"bl":0.76,"bh":0.92,"c":0.85,"cl":0.77,"ch":0.95},
{"e":90,"a":0.795,"al":0.68,"ah":0.9,"b":0.835,"bl":0.76,"bh":0.92,"c":0.845,"cl":0.77,"ch":0.93},
{"e":95,"a":0.785,"al":0.65,"ah":0.89,"b":0.83,"bl":0.75,"bh":0.91,"c":0.84,"cl":0.76,"ch":0.94},
{"e":100,"a":0.78,"al":0.67,"ah":0.88,"b":0.825,"bl":0.75,"bh":0.91,"c":0.835,"cl":0.76,"ch":0.92},
{"e":105,"a":0.78,"al":0.66,"ah":0.88,"b":0.82,"bl":0.74,"bh":0.9,"c":0.83,"cl":0.75,"ch":0.93},
{"e":110,"a":0.775,"al":0.67,"ah":0.9,"b":0.815,"bl":0.74,"bh":0.9,"c":0.825,"cl":0.75,"ch":0.91},
{"e":115,"a":0.77,"al":0.65,"ah":0.87,"b":0.81,"bl":0.73,"bh":0.89,"c":0.82,"cl":0.74,"ch":0.95},
{"e":120,"a":0.772,"al":0.66,"ah":0.88,"b":0.805,"bl":0.73,"bh":0.89,"c":0.815,"cl":0.74,"ch":0.9},
{"e":125,"a":0.765,"al":0.65,"ah":0.86,"b":0.8,"bl":0.72,"bh":0.88,"c":0.81,"cl":0.73,"ch":0.89},
{"e":130,"a":0.765,"al":0.6,"ah":0.87,"b":0.8,"bl":0.72,"bh":0.88,"c":0.81,"cl":0.73,"ch":0.9},
{"e":135,"a":0.76,"al":0.65,"ah":0.92,"b":0.795,"bl":0.72,"bh":0.87,"c":0.805,"cl":0.73,"ch":0.88},
{"e":140,"a":0.762,"al":0.66,"ah":0.86,"b":0.79,"bl":0.71,"bh":0.87,"c":0.8,"cl":0.72,"ch":0.88},
{"e":145,"a":0.755,"al":0.64,"ah":0.85,"b":0.79,"bl":0.71,"bh":0.87,"c":0.8,"cl":0.72,"ch":0.89},
{"e":150,"a":0.758,"al":0.66,"ah":0.86,"b":0.785,"bl":0.71,"bh":0.86,"c":0.797,"cl":0.72,"ch":0.88},
{"e":155,"a":0.752,"al":0.65,"ah":0.85,"b":0.785,"bl":0.71,"bh":0.86,"c":0.795,"cl":0.72,"ch":0.87},
{"e":160,"a":0.755,"al":0.66,"ah":0.86,"b":0.78,"bl":0.7,"bh":0.86,"c":0.792,"cl":0.71,"ch":0.87},
{"e":165,"a":0.75,"al":0.64,"ah":0.85,"b":0.78,"bl":0.7,"bh":0.86,"c":0.795,"cl":0.72,"ch":0.88},
{"e":170,"a":0.752,"al":0.65,"ah":0.86,"b":0.777,"bl":0.7,"bh":0.855,"c":0.788,"cl":0.71,"ch":0.87},
{"e":175,"a":0.748,"al":0.65,"ah":0.85,"b":0.775,"bl":0.7,"bh":0.85,"c":0.786,"cl":0.71,"ch":0.86},
{"e":180,"a":0.75,"al":0.66,"ah":0.85,"b":0.775,"bl":0.7,"bh":0.85,"c":0.785,"cl":0.71,"ch":0.86},
{"e":185,"a":0.745,"al":0.64,"ah":0.84,"b":0.772,"bl":0.69,"bh":0.85,"c":0.783,"cl":0.7,"ch":0.86},
{"e":190,"a":0.748,"al":0.63,"ah":0.85,"b":0.77,"bl":0.69,"bh":0.85,"c":0.782,"cl":0.7,"ch":0.86},
{"e":195,"a":0.743,"al":0.65,"ah":0.84,"b":0.77,"bl":0.69,"bh":0.85,"c":0.78,"cl":0.7,"ch":0.86},
{"e":200,"a":0.746,"al":0.65,"ah":0.85,"b":0.768,"bl":0.69,"bh":0.845,"c":0.78,"cl":0.7,"ch":0.86},
{"e":205,"a":0.742,"al":0.64,"ah":0.84,"b":0.767,"bl":0.69,"bh":0.845,"c":0.778,"cl":0.7,"ch":0.855},
{"e":210,"a":0.745,"al":0.65,"ah":0.84,"b":0.766,"bl":0.69,"bh":0.84,"c":0.777,"cl":0.7,"ch":0.855},
{"e":215,"a":0.74,"al":0.64,"ah":0.84,"b":0.765,"bl":0.69,"bh":0.84,"c":0.776,"cl":0.7,"ch":0.86},
{"e":220,"a":0.743,"al":0.65,"ah":0.87,"b":0.764,"bl":0.69,"bh":0.84,"c":0.776,"cl":0.7,"ch":0.85},
{"e":225,"a":0.74,"al":0.64,"ah":0.84,"b":0.763,"bl":0.69,"bh":0.84,"c":0.775,"cl":0.7,"ch":0.85},
{"e":230,"a":0.742,"al":0.65,"ah":0.84,"b":0.762,"bl":0.69,"bh":0.84,"c":0.774,"cl":0.7,"ch":0.85},
{"e":235,"a":0.738,"al":0.64,"ah":0.83,"b":0.762,"bl":0.69,"bh":0.84,"c":0.774,"cl":0.7,"ch":0.85},
{"e":240,"a":0.741,"al":0.6,"ah":0.93,"b":0.761,"bl":0.69,"bh":0.835,"c":0.773,"cl":0.7,"ch":0.85},
{"e":245,"a":0.738,"al":0.64,"ah":0.83,"b":0.76,"bl":0.69,"bh":0.835,"c":0.772,"cl":0.7,"ch":0.85},
{"e":249,"a":0.74,"al":0.65,"ah":0.84,"b":0.76,"bl":0.69,"bh":0.835,"c":0.772,"cl":0.7,"ch":0.85}
]
},
"concat": [
{
 "title": "Train Loss sgd", "width": 341, "height": 208,
 "data": {"name": "trs"},
 "encoding": {"x": {"field": "e", "type": "quantitative", "scale": {"domain": [-12.45, 261.45], "nice": false, "zero": false}, "axis": {"values": [0, 50, 100, 150, 200, 250], "title": "Epoch"}}},
 "layer": [
  {"mark": {"type": "area", "color": "#B8860B", "opacity": 0.2, "clip": true}, "encoding": {"y": {"field": "al", "type": "quantitative", "scale": {"domain": [0.2, 2.0], "nice": false, "zero": false}, "axis": {"values": [0.5, 1, 1.5, 2], "format": ".1f", "title": null}}, "y2": {"field": "ah"}}},
  {"mark": {"type": "line", "strokeWidth": 2.4, "clip": true}, "encoding": {"y": {"field": "a", "type": "quantitative", "scale": {"domain": [0.2, 2.0], "nice": false, "zero": false}, "axis": {"values": [0.5, 1, 1.5, 2], "format": ".1f", "title": null}}, "color": {"datum": "η₀ = 0.1", "type": "nominal", "scale": {"domain": ["η₀ = 0.1", "η₀ = 0.05", "η₀ = 0.01"], "range": ["#B8860B", "#8C8C8C", "#2E4A5A"]}, "legend": null}}},
  {"mark": {"type": "area", "color": "#8C8C8C", "opacity": 0.2, "clip": true}, "encoding": {"y": {"field": "bl", "type": "quantitative", "scale": {"domain": [0.2, 2.0], "nice": false, "zero": false}, "axis": {"values": [0.5, 1, 1.5, 2], "format": ".1f", "title": null}}, "y2": {"field": "bh"}}},
  {"mark": {"type": "line", "strokeWidth": 2.4, "clip": true}, "encoding": {"y": {"field": "b", "type": "quantitative", "scale": {"domain": [0.2, 2.0], "nice": false, "zero": false}, "axis": {"values": [0.5, 1, 1.5, 2], "format": ".1f", "title": null}}, "color": {"datum": "η₀ = 0.05", "type": "nominal", "scale": {"domain": ["η₀ = 0.1", "η₀ = 0.05", "η₀ = 0.01"], "range": ["#B8860B", "#8C8C8C", "#2E4A5A"]}, "legend": null}}},
  {"mark": {"type": "area", "color": "#2E4A5A", "opacity": 0.2, "clip": true}, "encoding": {"y": {"field": "cl", "type": "quantitative", "scale": {"domain": [0.2, 2.0], "nice": false, "zero": false}, "axis": {"values": [0.5, 1, 1.5, 2], "format": ".1f", "title": null}}, "y2": {"field": "ch"}}},
  {"mark": {"type": "line", "strokeWidth": 2.4, "clip": true}, "encoding": {"y": {"field": "c", "type": "quantitative", "scale": {"domain": [0.2, 2.0], "nice": false, "zero": false}, "axis": {"values": [0.5, 1, 1.5, 2], "format": ".1f", "title": null}}, "color": {"datum": "η₀ = 0.01", "type": "nominal", "scale": {"domain": ["η₀ = 0.1", "η₀ = 0.05", "η₀ = 0.01"], "range": ["#B8860B", "#8C8C8C", "#2E4A5A"]}, "legend": null}}}
 ]
},
{
 "title": "Train Loss p-sgd", "width": 341, "height": 208,
 "data": {"name": "trp"},
 "encoding": {"x": {"field": "e", "type": "quantitative", "scale": {"domain": [-12.45, 261.45], "nice": false, "zero": false}, "axis": {"values": [0, 50, 100, 150, 200, 250], "title": "Epoch"}}},
 "layer": [
  {"mark": {"type": "area", "color": "#B8860B", "opacity": 0.2, "clip": true}, "encoding": {"y": {"field": "al", "type": "quantitative", "scale": {"domain": [0.2, 2.0], "nice": false, "zero": false}, "axis": {"values": [0.5, 1, 1.5, 2], "format": ".1f", "title": null}}, "y2": {"field": "ah"}}},
  {"mark": {"type": "line", "strokeWidth": 2.4, "clip": true}, "encoding": {"y": {"field": "a", "type": "quantitative", "scale": {"domain": [0.2, 2.0], "nice": false, "zero": false}, "axis": {"values": [0.5, 1, 1.5, 2], "format": ".1f", "title": null}}, "color": {"datum": "η₀ = 0.1", "type": "nominal", "scale": {"domain": ["η₀ = 0.1", "η₀ = 0.05", "η₀ = 0.01"], "range": ["#B8860B", "#8C8C8C", "#2E4A5A"]}, "legend": {"title": null, "orient": "top-right", "offset": 12, "symbolType": "M-1,0H4", "symbolSize": 441, "symbolStrokeWidth": 2.4, "labelFont": "Liberation Serif", "labelFontSize": 22, "labelColor": "black", "labelOffset": 48, "fillColor": "rgba(255,255,255,0.8)", "strokeColor": "#cccccc", "cornerRadius": 5, "padding": 9, "rowPadding": 14, "labelExpr": "replace(datum.label, ' = ', '\u2002 = \u2002')"}}}},
  {"mark": {"type": "area", "color": "#8C8C8C", "opacity": 0.2, "clip": true}, "encoding": {"y": {"field": "bl", "type": "quantitative", "scale": {"domain": [0.2, 2.0], "nice": false, "zero": false}, "axis": {"values": [0.5, 1, 1.5, 2], "format": ".1f", "title": null}}, "y2": {"field": "bh"}}},
  {"mark": {"type": "line", "strokeWidth": 2.4, "clip": true}, "encoding": {"y": {"field": "b", "type": "quantitative", "scale": {"domain": [0.2, 2.0], "nice": false, "zero": false}, "axis": {"values": [0.5, 1, 1.5, 2], "format": ".1f", "title": null}}, "color": {"datum": "η₀ = 0.05", "type": "nominal", "scale": {"domain": ["η₀ = 0.1", "η₀ = 0.05", "η₀ = 0.01"], "range": ["#B8860B", "#8C8C8C", "#2E4A5A"]}}}},
  {"mark": {"type": "area", "color": "#2E4A5A", "opacity": 0.2, "clip": true}, "encoding": {"y": {"field": "cl", "type": "quantitative", "scale": {"domain": [0.2, 2.0], "nice": false, "zero": false}, "axis": {"values": [0.5, 1, 1.5, 2], "format": ".1f", "title": null}}, "y2": {"field": "ch"}}},
  {"mark": {"type": "line", "strokeWidth": 2.4, "clip": true}, "encoding": {"y": {"field": "c", "type": "quantitative", "scale": {"domain": [0.2, 2.0], "nice": false, "zero": false}, "axis": {"values": [0.5, 1, 1.5, 2], "format": ".1f", "title": null}}, "color": {"datum": "η₀ = 0.01", "type": "nominal", "scale": {"domain": ["η₀ = 0.1", "η₀ = 0.05", "η₀ = 0.01"], "range": ["#B8860B", "#8C8C8C", "#2E4A5A"]}}}}
 ]
},
{
 "title": "Test Loss sgd", "width": 341, "height": 208,
 "data": {"name": "tes"},
 "encoding": {"x": {"field": "e", "type": "quantitative", "scale": {"domain": [-12.45, 261.45], "nice": false, "zero": false}, "axis": {"values": [0, 50, 100, 150, 200, 250], "title": "Epoch"}}},
 "layer": [
  {"mark": {"type": "area", "color": "#B8860B", "opacity": 0.2, "clip": true}, "encoding": {"y": {"field": "al", "type": "quantitative", "scale": {"domain": [0.5, 2.0], "nice": false, "zero": false}, "axis": {"values": [0.5, 1, 1.5, 2], "format": ".1f", "title": null}}, "y2": {"field": "ah"}}},
  {"mark": {"type": "line", "strokeWidth": 2.6, "clip": true}, "encoding": {"y": {"field": "a", "type": "quantitative", "scale": {"domain": [0.5, 2.0], "nice": false, "zero": false}, "axis": {"values": [0.5, 1, 1.5, 2], "format": ".1f", "title": null}}, "color": {"datum": "η₀ = 0.1", "type": "nominal", "scale": {"domain": ["η₀ = 0.1", "η₀ = 0.05", "η₀ = 0.01"], "range": ["#B8860B", "#8C8C8C", "#2E4A5A"]}, "legend": null}}},
  {"mark": {"type": "area", "color": "#8C8C8C", "opacity": 0.2, "clip": true}, "encoding": {"y": {"field": "bl", "type": "quantitative", "scale": {"domain": [0.5, 2.0], "nice": false, "zero": false}, "axis": {"values": [0.5, 1, 1.5, 2], "format": ".1f", "title": null}}, "y2": {"field": "bh"}}},
  {"mark": {"type": "line", "strokeWidth": 2.6, "clip": true}, "encoding": {"y": {"field": "b", "type": "quantitative", "scale": {"domain": [0.5, 2.0], "nice": false, "zero": false}, "axis": {"values": [0.5, 1, 1.5, 2], "format": ".1f", "title": null}}, "color": {"datum": "η₀ = 0.05", "type": "nominal", "scale": {"domain": ["η₀ = 0.1", "η₀ = 0.05", "η₀ = 0.01"], "range": ["#B8860B", "#8C8C8C", "#2E4A5A"]}, "legend": null}}},
  {"mark": {"type": "area", "color": "#2E4A5A", "opacity": 0.2, "clip": true}, "encoding": {"y": {"field": "cl", "type": "quantitative", "scale": {"domain": [0.5, 2.0], "nice": false, "zero": false}, "axis": {"values": [0.5, 1, 1.5, 2], "format": ".1f", "title": null}}, "y2": {"field": "ch"}}},
  {"mark": {"type": "line", "strokeWidth": 2.6, "clip": true}, "encoding": {"y": {"field": "c", "type": "quantitative", "scale": {"domain": [0.5, 2.0], "nice": false, "zero": false}, "axis": {"values": [0.5, 1, 1.5, 2], "format": ".1f", "title": null}}, "color": {"datum": "η₀ = 0.01", "type": "nominal", "scale": {"domain": ["η₀ = 0.1", "η₀ = 0.05", "η₀ = 0.01"], "range": ["#B8860B", "#8C8C8C", "#2E4A5A"]}, "legend": null}}}
 ]
},
{
 "title": "Test Loss p-sgd", "width": 341, "height": 208,
 "data": {"name": "tep"},
 "encoding": {"x": {"field": "e", "type": "quantitative", "scale": {"domain": [-12.45, 261.45], "nice": false, "zero": false}, "axis": {"values": [0, 50, 100, 150, 200, 250], "title": "Epoch"}}},
 "layer": [
  {"mark": {"type": "area", "color": "#B8860B", "opacity": 0.2, "clip": true}, "encoding": {"y": {"field": "al", "type": "quantitative", "scale": {"domain": [0.5, 2.0], "nice": false, "zero": false}, "axis": {"values": [0.5, 1, 1.5, 2], "format": ".1f", "title": null}}, "y2": {"field": "ah"}}},
  {"mark": {"type": "line", "strokeWidth": 2.4, "clip": true}, "encoding": {"y": {"field": "a", "type": "quantitative", "scale": {"domain": [0.5, 2.0], "nice": false, "zero": false}, "axis": {"values": [0.5, 1, 1.5, 2], "format": ".1f", "title": null}}, "color": {"datum": "η₀ = 0.1", "type": "nominal", "scale": {"domain": ["η₀ = 0.1", "η₀ = 0.05", "η₀ = 0.01"], "range": ["#B8860B", "#8C8C8C", "#2E4A5A"]}, "legend": {"title": null, "orient": "top-right", "offset": 12, "symbolType": "M-1,0H4", "symbolSize": 441, "symbolStrokeWidth": 2.4, "labelFont": "Liberation Serif", "labelFontSize": 22, "labelColor": "black", "labelOffset": 48, "fillColor": "rgba(255,255,255,0.8)", "strokeColor": "#cccccc", "cornerRadius": 5, "padding": 9, "rowPadding": 14, "labelExpr": "replace(datum.label, ' = ', '\u2002 = \u2002')"}}}},
  {"mark": {"type": "area", "color": "#8C8C8C", "opacity": 0.2, "clip": true}, "encoding": {"y": {"field": "bl", "type": "quantitative", "scale": {"domain": [0.5, 2.0], "nice": false, "zero": false}, "axis": {"values": [0.5, 1, 1.5, 2], "format": ".1f", "title": null}}, "y2": {"field": "bh"}}},
  {"mark": {"type": "line", "strokeWidth": 2.4, "clip": true}, "encoding": {"y": {"field": "b", "type": "quantitative", "scale": {"domain": [0.5, 2.0], "nice": false, "zero": false}, "axis": {"values": [0.5, 1, 1.5, 2], "format": ".1f", "title": null}}, "color": {"datum": "η₀ = 0.05", "type": "nominal", "scale": {"domain": ["η₀ = 0.1", "η₀ = 0.05", "η₀ = 0.01"], "range": ["#B8860B", "#8C8C8C", "#2E4A5A"]}}}},
  {"mark": {"type": "area", "color": "#2E4A5A", "opacity": 0.2, "clip": true}, "encoding": {"y": {"field": "cl", "type": "quantitative", "scale": {"domain": [0.5, 2.0], "nice": false, "zero": false}, "axis": {"values": [0.5, 1, 1.5, 2], "format": ".1f", "title": null}}, "y2": {"field": "ch"}}},
  {"mark": {"type": "line", "strokeWidth": 2.4, "clip": true}, "encoding": {"y": {"field": "c", "type": "quantitative", "scale": {"domain": [0.5, 2.0], "nice": false, "zero": false}, "axis": {"values": [0.5, 1, 1.5, 2], "format": ".1f", "title": null}}, "color": {"datum": "η₀ = 0.01", "type": "nominal", "scale": {"domain": ["η₀ = 0.1", "η₀ = 0.05", "η₀ = 0.01"], "range": ["#B8860B", "#8C8C8C", "#2E4A5A"]}}}}
 ]
}
]
}
